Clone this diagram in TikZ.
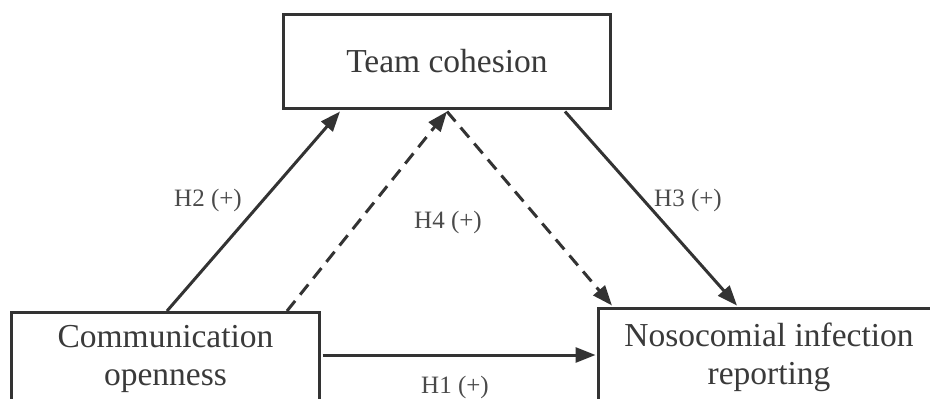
\documentclass[tikz,border=0pt]{standalone}
\usepackage{fontspec}
\setmainfont{Liberation Serif}
\usetikzlibrary{arrows.meta}
\definecolor{ink}{HTML}{333333}
\definecolor{txt}{HTML}{3A3A3A}
\definecolor{lbl}{HTML}{4A4A4A}
\tikzset{
  varbox/.style={draw=ink, line width=3pt, rectangle, align=center, inner sep=0pt,
    text=txt, font=\fontsize{33.5}{38}\selectfont},
  link/.style={draw=ink, line width=3pt, -{Triangle[length=20pt,width=15pt]}},
  dlink/.style={link, dash pattern=on 13pt off 8pt},
  hyp/.style={text=lbl, font=\fontsize{25}{28}\selectfont, inner sep=0pt}
}
\begin{document}
\begin{tikzpicture}[x=1pt,y=-1pt]
\useasboundingbox (0,0) rectangle (930,399);
\begin{scope}
\clip (0,0) rectangle (930,399);
\node[varbox, minimum width=327pt, minimum height=94pt] (tc) at (447,61.5) {Team cohesion};
\node[varbox, minimum width=308pt, minimum height=93pt] (co) at (165.5,359) {Communication\\openness};
\node[varbox, minimum width=341pt, minimum height=98pt] (ni) at (769,357.5) {Nosocomial infection\\reporting};
\end{scope}
\draw[link] ([xshift=1.5pt]co.north) -- ([xshift=-107pt,yshift=-1.5pt]tc.south);
\draw[dlink] ([xshift=121.5pt]co.north) -- ([yshift=-1.5pt]tc.south);
\draw[dlink] ([yshift=-1.5pt]tc.south) -- ([xshift=-157pt,yshift=1.5pt]ni.north);
\draw[link] ([xshift=118pt,yshift=-1.5pt]tc.south) -- ([xshift=-32pt,yshift=1.5pt]ni.north);
\draw[link] ([xshift=1.5pt,yshift=4pt]co.east) -- ([xshift=-1.5pt,yshift=2.5pt]ni.west);
\node[hyp] (h2) at (208,200) {H2 (+)};
\node[hyp] (h4) at (448,222) {H4 (+)};
\node[hyp] (h3) at (688,200) {H3 (+)};
\node[hyp] (h1) at (455,387) {H1 (+)};
\end{tikzpicture}
\end{document}
